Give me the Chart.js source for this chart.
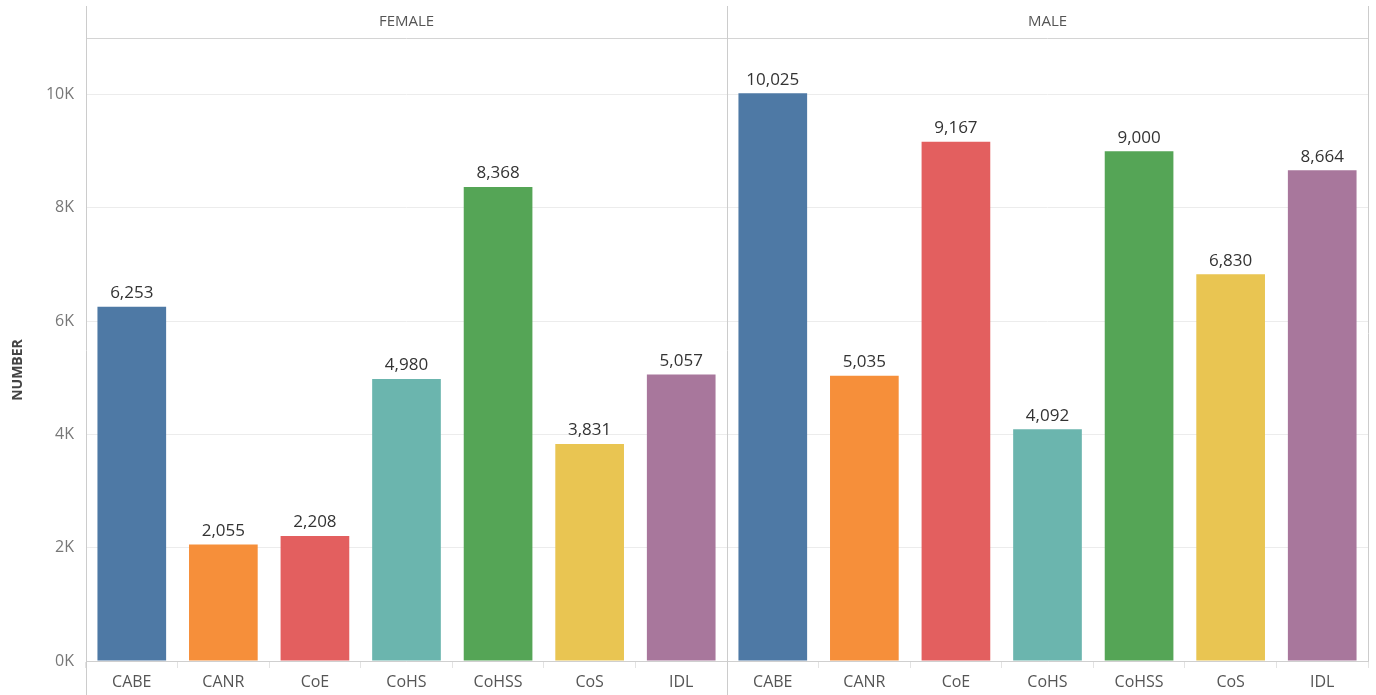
<!DOCTYPE html>
<html>
<head>
<meta charset="utf-8">
<script src="https://cdn.jsdelivr.net/npm/chart.js@4.4.1/dist/chart.umd.min.js"></script>
<style>
  html, body { margin:0; padding:0; background:#fff; }
  #wrap { position:relative; width:1376px; height:695px; }
</style>
</head>
<body>
<div id="wrap"><canvas id="chart" width="1376" height="695"></canvas></div>
<script>
// data
const colleges = ["CABE", "CANR", "CoE", "CoHS", "CoHSS", "CoS", "IDL"];
const panels = ["FEMALE", "MALE"];
const female = [6253, 2055, 2208, 4980, 8368, 3831, 5057];
const male = [10025, 5035, 9167, 4092, 9000, 6830, 8664];
const yTicks = [0, 2000, 4000, 6000, 8000, 10000];
const colors = ["#4e79a5", "#f68f3a", "#e35f5f", "#6bb5ae", "#55a556", "#e9c552", "#a8779c"];

const FONT = "'Open Sans', 'DejaVu Sans', sans-serif";

// panel headers, borders, value labels, axis title
const decor = {
  id: "decor",
  afterDatasetsDraw(chart){
    const ctx = chart.ctx;
    const area = chart.chartArea;
    const x = chart.scales.x;
    const sep = (x.getPixelForValue(6) + x.getPixelForValue(7)) / 2;

    ctx.save();
    ctx.lineWidth = 1;
    ctx.strokeStyle = "#d4d4d4";
    ctx.beginPath();
    ctx.moveTo(area.left, area.top + 0.5); ctx.lineTo(area.right, area.top + 0.5);
    ctx.stroke();
    ctx.strokeStyle = "#cccccc";
    ctx.beginPath();
    ctx.moveTo(area.left + 0.5, 6); ctx.lineTo(area.left + 0.5, 695);
    ctx.moveTo(sep + 0.5, 6); ctx.lineTo(sep + 0.5, 695);
    ctx.moveTo(area.right + 0.5, 6); ctx.lineTo(area.right + 0.5, area.bottom);
    ctx.stroke();

    ctx.fillStyle = "#555";
    ctx.font = "15px " + FONT;
    ctx.textAlign = "center";
    ctx.textBaseline = "middle";
    ctx.fillText(panels[0], (area.left + sep) / 2, 22);
    ctx.fillText(panels[1], (sep + area.right) / 2, 22);

    // value labels
    const meta = chart.getDatasetMeta(0);
    const vals = chart.data.datasets[0].data;
    ctx.fillStyle = "#333";
    ctx.font = "17px " + FONT;
    ctx.textBaseline = "bottom";
    meta.data.forEach((bar, i) => {
      ctx.fillText(vals[i].toLocaleString("en-US"), bar.x, bar.y - 5);
    });

    // y title
    ctx.translate(18, 370);
    ctx.rotate(-Math.PI / 2);
    ctx.fillStyle = "#444";
    ctx.font = "bold 14px " + FONT;
    ctx.textBaseline = "middle";
    ctx.fillText("NUMBER", 0, 0);
    ctx.restore();
  }
};

new Chart(document.getElementById("chart"), {
  type: "bar",
  data: {
    labels: colleges.concat(colleges),
    datasets: [{
      data: female.concat(male),
      backgroundColor: colors.concat(colors),
      barPercentage: 0.75,
      categoryPercentage: 1
    }]
  },
  options: {
    responsive: false,
    animation: false,
    layout: { padding: { top: 38, right: 8, left: 0, bottom: 0 } },
    plugins: { legend: { display: false }, tooltip: { enabled: false } },
    scales: {
      x: {
        afterFit(s){ s.height = 34; },
        grid: { offset: true, drawOnChartArea: false, tickLength: 7, color: "#e3e3e3" },
        border: { display: true, color: "#cfcfcf" },
        ticks: { color: "#555", font: { family: FONT, size: 16 }, padding: 5, maxRotation: 0, autoSkip: false }
      },
      y: {
        min: 0, max: 11000,
        afterFit(s){ s.width = 86; },
        afterBuildTicks(s){ s.ticks = yTicks.map(v => ({ value: v })); },
        grid: { color: "#ececec", drawTicks: false },
        border: { display: false },
        ticks: {
          padding: 12,
          color: "#777", font: { family: FONT, size: 16 },
          callback: v => (v / 1000) + "K"
        }
      }
    }
  },
  plugins: [decor]
});
</script>
</body>
</html>
